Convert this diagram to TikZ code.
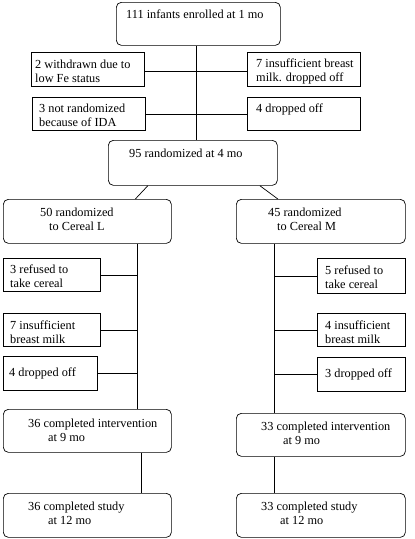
\documentclass[tikz,border=0pt]{standalone}
\usepackage{fontspec}
\setmainfont{Liberation Serif}

\tikzset{
  rbox/.style={draw, rounded corners=5pt, anchor=north west, inner sep=0pt, line width=0.7pt},
  sbox/.style={draw, anchor=north west, inner sep=0pt, line width=0.7pt},
  txt/.style={anchor=north west, inner sep=0pt, align=left, font=\fontsize{12.3}{14}\selectfont},
  link/.style={line width=0.7pt}
}

\begin{document}
\begin{tikzpicture}[x=1pt,y=-1pt]
\useasboundingbox (0,0) rectangle (415,539);
% enrolment and exclusions
\node[rbox, minimum width=164pt, minimum height=43pt] (enrol) at (116,2) {};
\node[txt] at ([shift={(10,6)}]enrol.north west) {\strut 111 infants enrolled at 1 mo};
\node[sbox, minimum width=113pt, minimum height=34pt] (lowfe) at (31,52) {};
\node[txt] at ([shift={(4,6)}]lowfe.north west) {\strut 2 withdrawn due to\\low Fe status};
\node[sbox, minimum width=113pt, minimum height=34pt] (insuff) at (247,52) {};
\node[txt] at ([shift={(9,5)}]insuff.north west) {\strut 7 insufficient breast\\milk. dropped off};
\node[sbox, minimum width=113pt, minimum height=33pt] (noran) at (32,97) {};
\node[txt] at ([shift={(7,5)}]noran.north west) {\strut 3 not randomized\\because of IDA};
\node[sbox, minimum width=113pt, minimum height=33pt] (dropA) at (247,97) {};
\node[txt] at ([shift={(9,5)}]dropA.north west) {\strut 4 dropped off};
\node[rbox, minimum width=169pt, minimum height=45pt] (rand) at (108,140) {};
\node[txt] at ([shift={(21,7)}]rand.north west) {\strut 95 randomized at 4 mo};
\coordinate (spine) at ([xshift=-2pt]enrol.south);
\draw[link] (spine) -- (spine |- rand.north);
\draw[link] ([yshift=-2pt]lowfe.east) -- ([yshift=-2pt]lowfe.east -| insuff.west);
\draw[link] (noran.east) -- (noran.east -| dropA.west);
% cereal L arm
\node[rbox, minimum width=168pt, minimum height=44pt] (cerL) at (3,199) {};
\node[txt] at ([shift={(37,7)}]cerL.north west) {\strut 50 randomized\\\hspace{9pt}to Cereal L};
\node[sbox, minimum width=97pt, minimum height=33pt] (refL) at (3,258) {};
\node[txt] at ([shift={(7,5)}]refL.north west) {\strut 3 refused to\\take cereal};
\node[sbox, minimum width=97pt, minimum height=33pt] (milkL) at (3,313) {};
\node[txt] at ([shift={(7,6)}]milkL.north west) {\strut 7 insufficient\\breast milk};
\node[sbox, minimum width=94pt, minimum height=34pt] (dropL) at (3,356) {};
\node[txt] at ([shift={(6,10)}]dropL.north west) {\strut 4 dropped off};
\node[rbox, minimum width=168pt, minimum height=43pt] (intL) at (3,409) {};
\node[txt] at ([shift={(25,8)}]intL.north west) {\strut 36 completed intervention\\\hspace{20pt}at 9 mo};
\node[rbox, minimum width=168pt, minimum height=44pt] (studyL) at (3,493) {};
\node[txt] at ([shift={(25,7)}]studyL.north west) {\strut 36 completed study\\\hspace{20pt}at 12 mo};
\coordinate (spineL) at ([xshift=50pt]cerL.south);
\draw[link] ([xshift=-45pt]rand.south) -- ([xshift=48pt]cerL.north);
\draw[link] (spineL) -- (spineL |- intL.north);
\draw[link] (refL.east) -- (refL.east -| spineL);
\draw[link] (milkL.east) -- (milkL.east -| spineL);
\draw[link] (dropL.east) -- (dropL.east -| spineL);
\draw[link] ([xshift=54pt]intL.south) -- ([xshift=54pt]studyL.north);
% cereal M arm
\node[rbox, minimum width=169pt, minimum height=44pt] (cerM) at (236,199) {};
\node[txt] at ([shift={(32,7)}]cerM.north west) {\strut 45 randomized\\\hspace{9pt}to Cereal M};
\node[sbox, minimum width=88pt, minimum height=35pt] (refM) at (317,258) {};
\node[txt] at ([shift={(8,6)}]refM.north west) {\strut 5 refused to\\take cereal};
\node[sbox, minimum width=88pt, minimum height=33pt] (milkM) at (317,313) {};
\node[txt] at ([shift={(8,6)}]milkM.north west) {\strut 4 insufficient\\breast milk};
\node[sbox, minimum width=88pt, minimum height=34pt] (dropM) at (317,357) {};
\node[txt] at ([shift={(8,10)}]dropM.north west) {\strut 3 dropped off};
\node[rbox, minimum width=169pt, minimum height=43pt] (intM) at (236,413) {};
\node[txt] at ([shift={(25,7)}]intM.north west) {\strut 33 completed intervention\\\hspace{22pt}at 9 mo};
\node[rbox, minimum width=169pt, minimum height=44pt] (studyM) at (236,493) {};
\node[txt] at ([shift={(25,7)}]studyM.north west) {\strut 33 completed study\\\hspace{19pt}at 12 mo};
\coordinate (spineM) at ([xshift=-47pt]cerM.south);
\draw[link] ([xshift=67pt]rand.south) -- ([xshift=-43pt]cerM.north);
\draw[link] (spineM) -- (spineM |- intM.north);
\draw[link] (refM.west) -- (refM.west -| spineM);
\draw[link] (milkM.west) -- (milkM.west -| spineM);
\draw[link] (dropM.west) -- (dropM.west -| spineM);
\draw[link] ([xshift=-47pt]intM.south) -- ([xshift=-47pt]studyM.north);
\end{tikzpicture}
\end{document}
